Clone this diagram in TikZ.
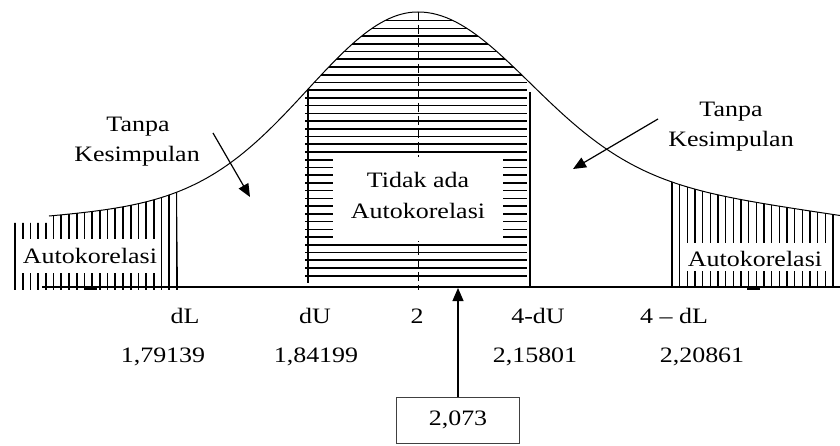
\documentclass[tikz,border=0pt]{standalone}
\usepackage{fontspec}
\setmainfont{Liberation Serif}[FakeStretch=1.18]
\usetikzlibrary{arrows.meta}
\pgfmathdeclarefunction{hL}{1}{\pgfmathparse{287-190*exp(-((#1-418)/100)*((#1-418)/100)/2.3762)-85*exp(-((#1-418)/100)*((#1-418)/100)/72)}}
\pgfmathdeclarefunction{hR}{1}{\pgfmathparse{287-165*exp(-((#1-418)/100)*((#1-418)/100)/2.3762)-110*exp(-((#1-418)/100)*((#1-418)/100)/41.2)}}
\begin{document}
\begin{tikzpicture}[x=1pt,y=-1pt,
  curveline/.style={line width=1pt},
  hatch/.style={line width=1.6pt},
  lbl/.style={font=\fontsize{22}{31}\selectfont, inner sep=0pt, anchor=base},
  pointer/.style={line width=1.2pt, -{Triangle[length=13pt,width=11pt]}},
  whitebox/.style={fill=white, draw=none}
]
\useasboundingbox (0,0) rectangle (840,446);

% middle horizontal hatching
\begin{scope}
  \clip (305,0) rectangle (527,300);
  \clip plot[domain=49:418,samples=80,variable=\t] (\t,{hL(\t)}) -- plot[domain=418:840,samples=80,variable=\t] (\t,{hR(\t)}) -- (840,287) -- (49,287) -- cycle;
  \foreach \k in {0,...,33} \draw[hatch] (305,{275.7-7.73*\k}) -- (527,{275.7-7.73*\k});
\end{scope}

% left vertical hatching
\begin{scope}
  \clip (13,223) -- (49,223) -- plot[domain=49:177,samples=40,variable=\t] (\t,{hL(\t)}) -- (178,292) -- (13,292) -- cycle;
  \foreach \k in {0,...,21} \draw[hatch] ({15+7.714*\k},150) -- ({15+7.714*\k},290);
\end{scope}

% right vertical hatching
\begin{scope}
  \clip plot[domain=670:840,samples=40,variable=\t] (\t,{hR(\t)}) -- (840,287) -- (670,287) -- cycle;
  \foreach \k in {0,...,21} \draw[hatch] ({672+7.667*\k},150) -- ({672+7.667*\k},287);
\end{scope}

% middle borders and centre line
\draw[line width=1.4pt] (308,{hL(308)}) -- (308,283);
\draw[line width=1.4pt] (530,92) -- (530,287);
\draw[line width=1pt, dash pattern=on 9pt off 4pt] (418,12) -- (418,290);

% white boxes
\fill[whitebox] (333,157) rectangle (503,241);
\fill[whitebox] (19,239) rectangle (159,273);
\fill[whitebox] (683,243) rectangle (829,271);

% curve and baseline
\draw[curveline] plot[domain=49:418,samples=90,variable=\t] (\t,{hL(\t)}) -- plot[domain=418:840,samples=90,variable=\t] (\t,{hR(\t)});
\draw[line width=1.3pt] (42,287) -- (840,287);
\draw[line width=1.8pt] (85,289) -- (97,289);
\draw[line width=1.8pt] (747,289) -- (760,289);

% texts
\node[lbl] (t1) at (418,188) {Tidak ada};
\node[lbl] (t2) at (418,219) {Autokorelasi};
\node[lbl] (aL) at (90,264) {Autokorelasi};
\node[lbl] (aR) at (755,266) {Autokorelasi};
\node[lbl] (tpL) at (138,132) {Tanpa};
\node[lbl] (ksL) at (137,162) {Kesimpulan};
\node[lbl] (tpR) at (731,117) {Tanpa};
\node[lbl] (ksR) at (731,147) {Kesimpulan};

\node[lbl] (dL) at (185,323) {dL};
\node[lbl] (dU) at (315,323) {dU};
\node[lbl] (two) at (417,323) {2};
\node[lbl] (fdU) at (538,323) {4-dU};
\node[lbl] (fdL) at (674,323) {4 – dL};
\node[lbl] (v1) at (163,362) {1,79139};
\node[lbl] (v2) at (316,362) {1,84199};
\node[lbl] (v3) at (535,362) {2,15801};
\node[lbl] (v4) at (702,362) {2,20861};

\node[draw=black!75, line width=1pt, minimum width=123pt, minimum height=46pt, inner sep=0pt,
      font=\fontsize{22}{31}\selectfont] (val) at (458,420) {2,073};

% arrows
\coordinate (la0) at (213,133);
\coordinate (la1) at (250,197);
\coordinate (ra0) at (658,119);
\coordinate (ra1) at (573,169);
\coordinate (tip) at (458,288);
\draw[pointer] (la0) -- (la1);
\draw[pointer] (ra0) -- (ra1);
\draw[pointer] (val.north) -- (tip);
\end{tikzpicture}
\end{document}
